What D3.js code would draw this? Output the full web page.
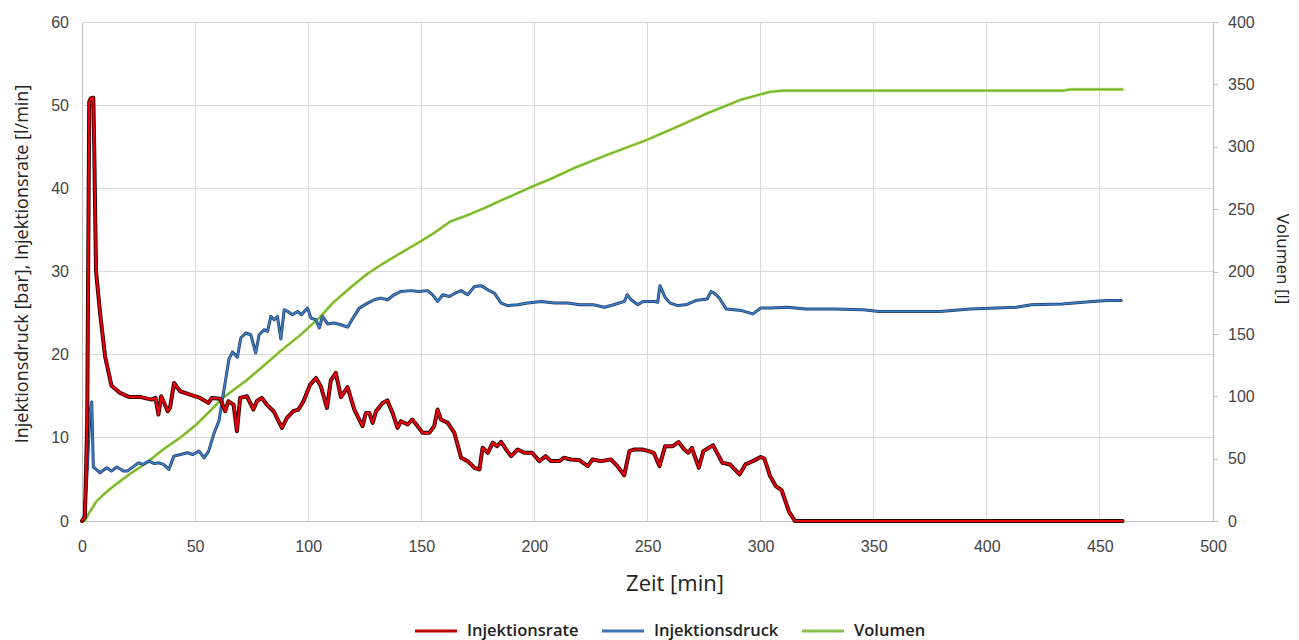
<!DOCTYPE html>
<meta charset="utf-8">
<style>
body { margin: 0; background: #fff; }
svg { font-family: "Open Sans", "Noto Sans", sans-serif; }

.grid line {
  stroke: #d9d9d9;
  stroke-width: 1;
  shape-rendering: crispEdges;
}

.axis path,
.axis line {
  stroke: #bfbfbf;
  shape-rendering: crispEdges;
}

.axis text {
  font-size: 16px;
  fill: #444;
}

.title {
  font-size: 17px;
  fill: #222;
  text-anchor: middle;
}

.legend text {
  font-size: 16.5px;
  font-weight: 600;
  fill: #222;
}
</style>
<body>
<div id="chart"></div>
<script src="https://cdnjs.cloudflare.com/ajax/libs/d3/7.8.5/d3.min.js"></script>
<script>

// tick values
var xTicks = [0, 50, 100, 150, 200, 250, 300, 350, 400, 450, 500];
var leftTicks = [0, 10, 20, 30, 40, 50, 60];
var rightTicks = [0, 50, 100, 150, 200, 250, 300, 350, 400];

// Injektionsrate [l/min] : [Zeit, Wert]
var rate = [[0,0],[1.3,0.5],[2.3,12],[3.2,50.4],[3.8,50.8],[5.0,50.9],[5.4,45],[6.2,30],[8,25],[10.2,19.8],
  [13,16.3],[16.8,15.4],[21,14.9],[26,14.9],[30.8,14.6],[32.5,14.8],[33.8,12.8],[35,15.0],[36,14.4],[37.9,13.2],
  [38.9,13.6],[40.7,16.6],[43.4,15.6],[47.8,15.2],[52.2,14.8],[55.9,14.2],[57.4,14.8],[61.1,14.7],[63.3,13.2],[64.7,14.4],
  [67,14.0],[68.5,10.8],[69.9,14.8],[72.9,15.0],[75.8,13.4],[77.3,14.4],[79.5,14.8],[81.7,14.0],[84.7,13.2],[88.4,11.2],
  [90.6,12.4],[93.5,13.2],[95.7,13.4],[97.9,14.4],[100.9,16.4],[103.4,17.2],[105.6,16.2],[108.3,13.6],[110,16.9],[112.2,17.8],
  [114.5,14.9],[117.4,16.1],[120.4,13.4],[124,11.4],[125.5,13.0],[127,13.0],[128.5,11.8],[130,13.2],[132.9,14.2],[135,14.5],
  [137.3,13.0],[139.5,11.2],[141,12.0],[144,11.6],[146,12.2],[148.4,11.4],[150.6,10.6],[153.5,10.6],[155.7,11.4],[157.2,13.4],
  [158.7,12.2],[161.7,11.8],[164.6,10.6],[167.6,7.6],[170.5,7.2],[173.5,6.4],[175.7,6.2],[177.1,8.8],[179.4,8.2],[181.6,9.4],
  [183.5,9.0],[185.3,9.5],[187.5,8.6],[189.7,7.8],[192.6,8.6],[195.6,8.2],[199,8.2],[202.2,7.2],[205,7.8],[207.3,7.2],
  [211,7.2],[213,7.6],[216.2,7.4],[220,7.3],[223.6,6.6],[225.7,7.4],[229.4,7.2],[233.8,7.4],[236.7,6.6],[239.7,5.5],
  [242,8.4],[244.2,8.6],[247.7,8.6],[250.5,8.4],[252.8,8.2],[255.3,6.6],[257.8,9.0],[261.2,9.0],[263.7,9.5],[266.3,8.6],
  [268,8.2],[269.6,8.8],[272.7,6.4],[274.7,8.4],[279,9.1],[283.1,7.0],[286.5,6.8],[290.7,5.6],[293.3,6.8],[296.6,7.2],
  [300,7.7],[301.7,7.5],[304.2,5.4],[306.7,4.2],[309.3,3.7],[312.6,1.1],[315.2,0],[460,0]];

// Injektionsdruck [bar]
var pressure = [[0,0],[1,0.5],[2.3,6],[3.5,13],[4.3,14.3],[5.0,6.5],[8,5.8],[10.9,6.4],[13,6.0],[15.4,6.5],
  [18.3,6.0],[20,6.0],[23,6.6],[25,7.0],[27,6.8],[29.5,7.2],[32,6.9],[34,7.0],[36,6.8],[38.4,6.2],
  [40.6,7.8],[43.6,8.0],[46.5,8.2],[49,8.0],[51.7,8.4],[54,7.6],[56,8.4],[58.3,10.5],[60.6,12.1],[62,14.5],
  [63.5,17],[65,19.5],[66.5,20.3],[68.7,19.7],[70.2,22],[72.4,22.6],[74.6,22.4],[76.8,20.2],[78.3,22.4],[80.5,23.0],
  [82,22.8],[83.5,24.6],[85,24.2],[86.4,24.6],[87.9,21.9],[89.4,25.4],[91,25.2],[93,24.8],[95.3,25.2],[97,24.8],
  [99.7,25.6],[101.2,24.4],[103.4,24.2],[104.9,23.2],[106.3,24.6],[108.6,23.7],[111.5,23.8],[114.5,23.6],[117.4,23.3],[118.9,24.0],
  [122.6,25.6],[126.3,26.2],[129.2,26.6],[132,26.8],[135.1,26.6],[138,27.2],[141,27.6],[145.4,27.7],[149,27.6],[152.8,27.7],
  [155,27.2],[157.2,26.4],[159.5,27.2],[162.4,27.0],[165,27.4],[167.6,27.7],[170.5,27.2],[173.5,28.2],[176.4,28.3],[179.4,27.8],
  [182.3,27.4],[185.3,26.2],[188.2,25.9],[192.6,26.0],[197,26.2],[203,26.4],[209,26.2],[214.7,26.2],[220,26.0],[226,26.0],
  [231,25.7],[235,26.0],[239.8,26.4],[241,27.2],[242.8,26.6],[245.7,26.0],[248,26.4],[253,26.4],[254.5,26.3],[255.5,28.3],
  [257.8,26.9],[260,26.2],[263.4,25.9],[267,26.0],[271.3,26.5],[276.4,26.7],[278.1,27.6],[279.5,27.4],[281.5,26.9],[284.8,25.5],
  [291.6,25.3],[296.6,24.9],[300,25.6],[305,25.6],[311.8,25.7],[320,25.5],[332,25.5],[345.5,25.4],[352.3,25.2],[365.8,25.2],
  [379.3,25.2],[392.7,25.5],[413,25.7],[419.7,26.0],[433.2,26.1],[446.7,26.4],[453.5,26.5],[459.4,26.5]];

// Volumen [l] (rechte Achse)
var volume = [[0,0],[1.3,0],[3,6],[6.5,16],[10,22],[14,28],[21,37.5],[28.6,46.7],[36,57.5],[43.4,66.7],
  [50.7,77.6],[56,87],[62.5,99],[72.9,113],[80,124],[87.6,136],[96.5,149],[105,163],[111,175],[118.6,187],
  [126,198],[133.3,206.6],[140.7,214.6],[150,224.5],[155.5,230.7],[162.8,240],[170.2,245],[177.6,250.6],[185,256.7],[192.3,262.6],
  [199.7,268.6],[207,274],[217.4,282.8],[232,293.4],[249.6,305.4],[261.6,314.8],[276.4,326.8],[291,337.5],[299,341.5],[304,344],
  [310,345],[434,345],[437,346],[460,346]];

var chartw = 1299, charth = 640;
var margin = {top: 22, right: 86, bottom: 119, left: 82},
    width = chartw - margin.left - margin.right,
    height = charth - margin.top - margin.bottom;

var x = d3.scaleLinear().domain([0, 500]).range([0, width]);
var yL = d3.scaleLinear().domain([0, 60]).range([height, 0]);
var yR = d3.scaleLinear().domain([0, 400]).range([height, 0]);

var svg = d3.select("#chart").append("svg")
    .attr("width", chartw)
    .attr("height", charth);

var g = svg.append("g")
    .attr("transform", "translate(" + margin.left + "," + margin.top + ")");

// gridlines
var grid = g.append("g").attr("class", "grid");
grid.selectAll(".h").data(leftTicks.slice(1)).enter().append("line")
    .attr("x1", 0).attr("x2", width)
    .attr("y1", function(d) { return yL(d); })
    .attr("y2", function(d) { return yL(d); });
grid.selectAll(".v").data(xTicks.slice(1, -1)).enter().append("line")
    .attr("y1", 0).attr("y2", height)
    .attr("x1", function(d) { return x(d); })
    .attr("x2", function(d) { return x(d); });

// axes
g.append("g")
    .attr("class", "axis")
    .attr("transform", "translate(0," + height + ")")
    .call(d3.axisBottom(x).tickValues(xTicks).tickSize(0).tickPadding(20));

g.append("g")
    .attr("class", "axis")
    .call(d3.axisLeft(yL).tickValues(leftTicks).tickSize(0).tickPadding(13));

g.append("g")
    .attr("class", "axis")
    .attr("transform", "translate(" + width + ",0)")
    .call(d3.axisRight(yR).tickValues(rightTicks).tickSize(5).tickSizeOuter(0).tickPadding(10));

// lines
var lineL = d3.line()
    .x(function(d) { return x(d[0]); })
    .y(function(d) { return yL(d[1]); });
var lineR = d3.line()
    .x(function(d) { return x(d[0]); })
    .y(function(d) { return yR(d[1]); });

var lines = g.append("g").attr("fill", "none")
    .attr("stroke-linejoin", "round").attr("stroke-linecap", "round");

lines.append("path").attr("d", lineR(volume))
    .attr("stroke", "#c8e27a").attr("stroke-width", 3.2);
lines.append("path").attr("d", lineR(volume))
    .attr("stroke", "#6fb52f").attr("stroke-width", 1.8);

lines.append("path").attr("d", lineL(pressure))
    .attr("stroke", "#1f3f6e").attr("stroke-width", 3);
lines.append("path").attr("d", lineL(pressure))
    .attr("stroke", "#3f7fc4").attr("stroke-width", 1.5);

lines.append("path").attr("d", lineL(rate))
    .attr("stroke", "#2a0000").attr("stroke-width", 4);
lines.append("path").attr("d", lineL(rate))
    .attr("stroke", "#e8000b").attr("stroke-width", 2.2);

// axis titles
svg.append("text")
    .attr("class", "title")
    .attr("transform", "translate(28,264) rotate(-90)")
    .style("font-size", "18px")
    .text("Injektionsdruck [bar], Injektionsrate [l/min]");

svg.append("text")
    .attr("class", "title")
    .attr("transform", "translate(1277,259) rotate(90)")
    .text("Volumen [l]");

svg.append("text")
    .attr("class", "title")
    .attr("x", 675).attr("y", 591)
    .style("font-size", "22px")
    .text("Zeit [min]");

// legend
var legendItems = [
  {name: "Injektionsrate", color: "#c00000", x: 415},
  {name: "Injektionsdruck", color: "#3f73b8", x: 602},
  {name: "Volumen", color: "#8cc152", x: 802}
];
var legend = svg.append("g").attr("class", "legend")
    .selectAll("g").data(legendItems).enter().append("g")
    .attr("transform", function(d) { return "translate(" + d.x + ",631)"; });
legend.append("line")
    .attr("x1", 0).attr("x2", 42)
    .attr("stroke", function(d) { return d.color; })
    .attr("stroke-width", 3);
legend.append("text")
    .attr("x", 52).attr("dy", "0.3em")
    .text(function(d) { return d.name; });

</script>
</body>
